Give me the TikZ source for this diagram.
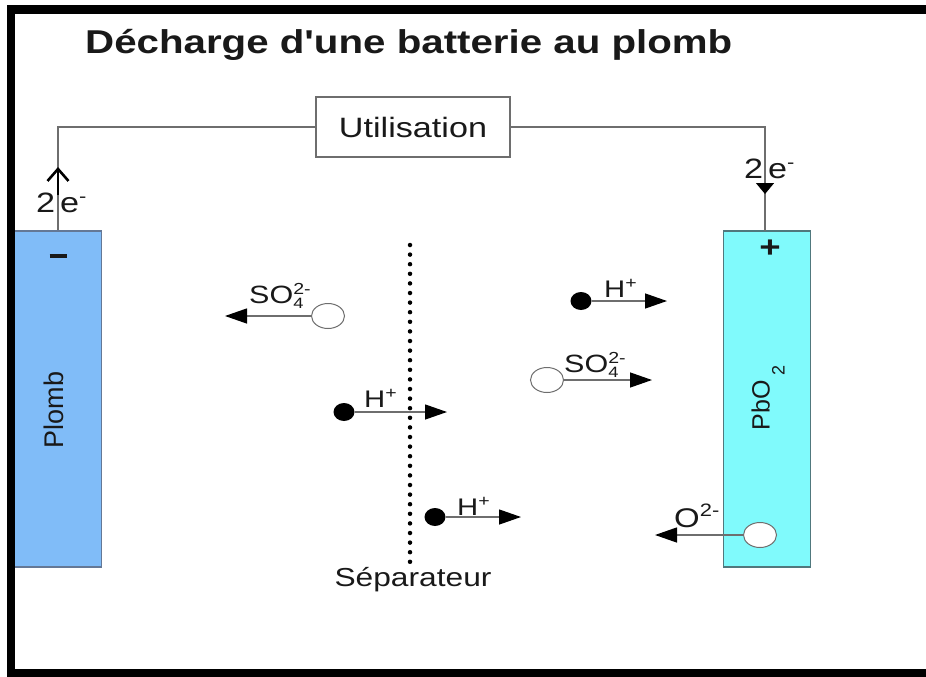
\documentclass[tikz,border=0pt]{standalone}
\usepackage{fontspec}
\setmainfont{Liberation Sans}[FakeStretch=1.22]
\newfontfamily\rotfont{Liberation Sans}
\usetikzlibrary{arrows.meta,shapes.geometric}
\definecolor{plombfill}{RGB}{128,188,248}
\definecolor{plombdraw}{RGB}{100,120,150}
\definecolor{pbofill}{RGB}{128,250,252}
\definecolor{pbodraw}{RGB}{80,120,125}
\definecolor{wiregray}{RGB}{110,110,110}
\definecolor{txt}{RGB}{25,25,25}
\newcommand{\fsz}[1]{\fontsize{#1}{#1}\selectfont}
\newcommand{\sofour}{SO\makebox[0pt][l]{\raisebox{-5pt}{\fsz{15}4}}\raisebox{9pt}{\fsz{16}2-}}
\begin{document}
\begin{tikzpicture}[x=1pt,y=-1pt,
  wire/.style={draw=wiregray,line width=1.4pt},
  electrode/.style={rectangle,line width=1.3pt,minimum width=87pt,minimum height=336pt,inner sep=0pt},
  ionopen/.style={ellipse,draw=wiregray,fill=white,line width=1pt,minimum width=33pt,minimum height=25pt,inner sep=0pt},
  iondot/.style={ellipse,fill=black,minimum width=21pt,minimum height=18pt,inner sep=0pt},
  ionarrow/.style={draw=wiregray,line width=1.3pt,-{Triangle[length=22pt,width=15pt,color=black]}},
  lab/.style={text=txt,inner sep=0pt,font=\fsz{25}},
  sep/.style={draw=black,line width=4.5pt,line cap=round,dash pattern=on 0pt off 9.6pt}
]
\useasboundingbox (0,0) rectangle (926,677);
\fill[white] (0,0) rectangle (926,677);

% title
\node[text=txt,inner sep=0pt,anchor=base west,font=\fsz{33}\bfseries\addfontfeature{Ligatures=TeXOff}] (title) at (85,53) {Décharge d'une batterie au plomb};

% electrodes
\node[electrode,fill=plombfill,draw=plombdraw] (plomb) at (58,399) {};
\node[electrode,fill=pbofill,draw=pbodraw] (pbo) at (767,399) {};
\node[text=txt,rotate=90,inner sep=0pt,font=\rotfont\fsz{27}] (plomblab) at (54,410) {Plomb};
\node[text=txt,rotate=90,inner sep=0pt,font=\rotfont\fsz{25}] (pbolab) at (768,398) {PbO\,\raisebox{-15pt}{\fsz{18}2}};
\node[inner sep=0pt] (minus) at (58,256) {\color{txt}\rule{17pt}{3.5pt}};
\node[text=txt,inner sep=0pt,font=\fsz{30}\bfseries] (plus) at (770,249) {+};

% utilisation box and wires
\node[draw=wiregray,line width=1.6pt,minimum width=194pt,minimum height=60pt,inner sep=0pt] (util) at (413,127) {};
\node[lab,anchor=base,font=\fsz{28}] (utillab) at (413,137) {Utilisation};
\coordinate (lc) at (58,127);
\coordinate (rc) at (765,127);
\draw[wire] (plomb.north) -- (lc) -- (util.west);
\draw[wire] (util.east) -- (rc) -- (765,231);
\coordinate (la1) at (58,195);
\coordinate (la2) at (58,167);
\draw[draw=black,line width=1.4pt,-{Straight Barb[length=12pt,width=21pt,line width=2.6pt]}] (la1) -- (la2);
\coordinate (ra1) at (765,170);
\coordinate (ra2) at (765,194);
\draw[draw=wiregray,line width=1.4pt,-{Triangle[length=11pt,width=18pt,color=black]}] (ra1) -- (ra2);
\node[lab,anchor=base west,font=\fsz{28}] (el) at (36,212) {2\hspace{5pt}e\raisebox{10pt}{\fsz{18}-}};
\node[lab,anchor=base west,font=\fsz{28}] (er) at (744,178) {2\hspace{5pt}e\raisebox{10pt}{\fsz{18}-}};

% separator
\coordinate (sept) at (410,245);
\coordinate (sepb) at (410,562);
\draw[sep] (sept) -- (sepb);
\node[lab,anchor=base,font=\fsz{26}] (seplab) at (413,586) {Séparateur};

% ions
\node[ionopen] (so1) at (328,316) {};
\coordinate (so1e) at (225,316);
\draw[ionarrow] (so1.west) -- (so1e);
\node[lab,anchor=base west] (so1lab) at (249,303) {\sofour};

\node[iondot] (h1) at (581,301) {};
\coordinate (h1e) at (667,301);
\draw[ionarrow] (h1.east) -- (h1e);
\node[lab,anchor=base west,font=\fsz{24}] (h1lab) at (604,297) {H\raisebox{9pt}{\fsz{16}+}};

\node[ionopen] (so2) at (547,380) {};
\coordinate (so2e) at (652,380);
\draw[ionarrow] (so2.east) -- (so2e);
\node[lab,anchor=base west] (so2lab) at (564,372) {\sofour};

\node[iondot] (h2) at (344,412) {};
\coordinate (h2e) at (447,412);
\draw[ionarrow] (h2.east) -- (h2e);
\node[lab,anchor=base west,font=\fsz{24}] (h2lab) at (364,407) {H\raisebox{9pt}{\fsz{16}+}};

\node[iondot] (h3) at (435,517) {};
\coordinate (h3e) at (521,517);
\draw[ionarrow] (h3.east) -- (h3e);
\node[lab,anchor=base west,font=\fsz{24}] (h3lab) at (457,515) {H\raisebox{9pt}{\fsz{16}+}};

\node[ionopen] (o1) at (760,535) {};
\coordinate (o1e) at (655,535);
\draw[ionarrow] (o1.west) -- (o1e);
\node[lab,anchor=base west,font=\fsz{27}] (o1lab) at (674,527) {O\raisebox{11pt}{\fsz{18}2-}};

% frame
\fill[black] (7,5) rectangle (926,14);
\fill[black] (7,5) rectangle (15,677);
\fill[black] (7,669) rectangle (926,677);
\end{tikzpicture}
\end{document}
